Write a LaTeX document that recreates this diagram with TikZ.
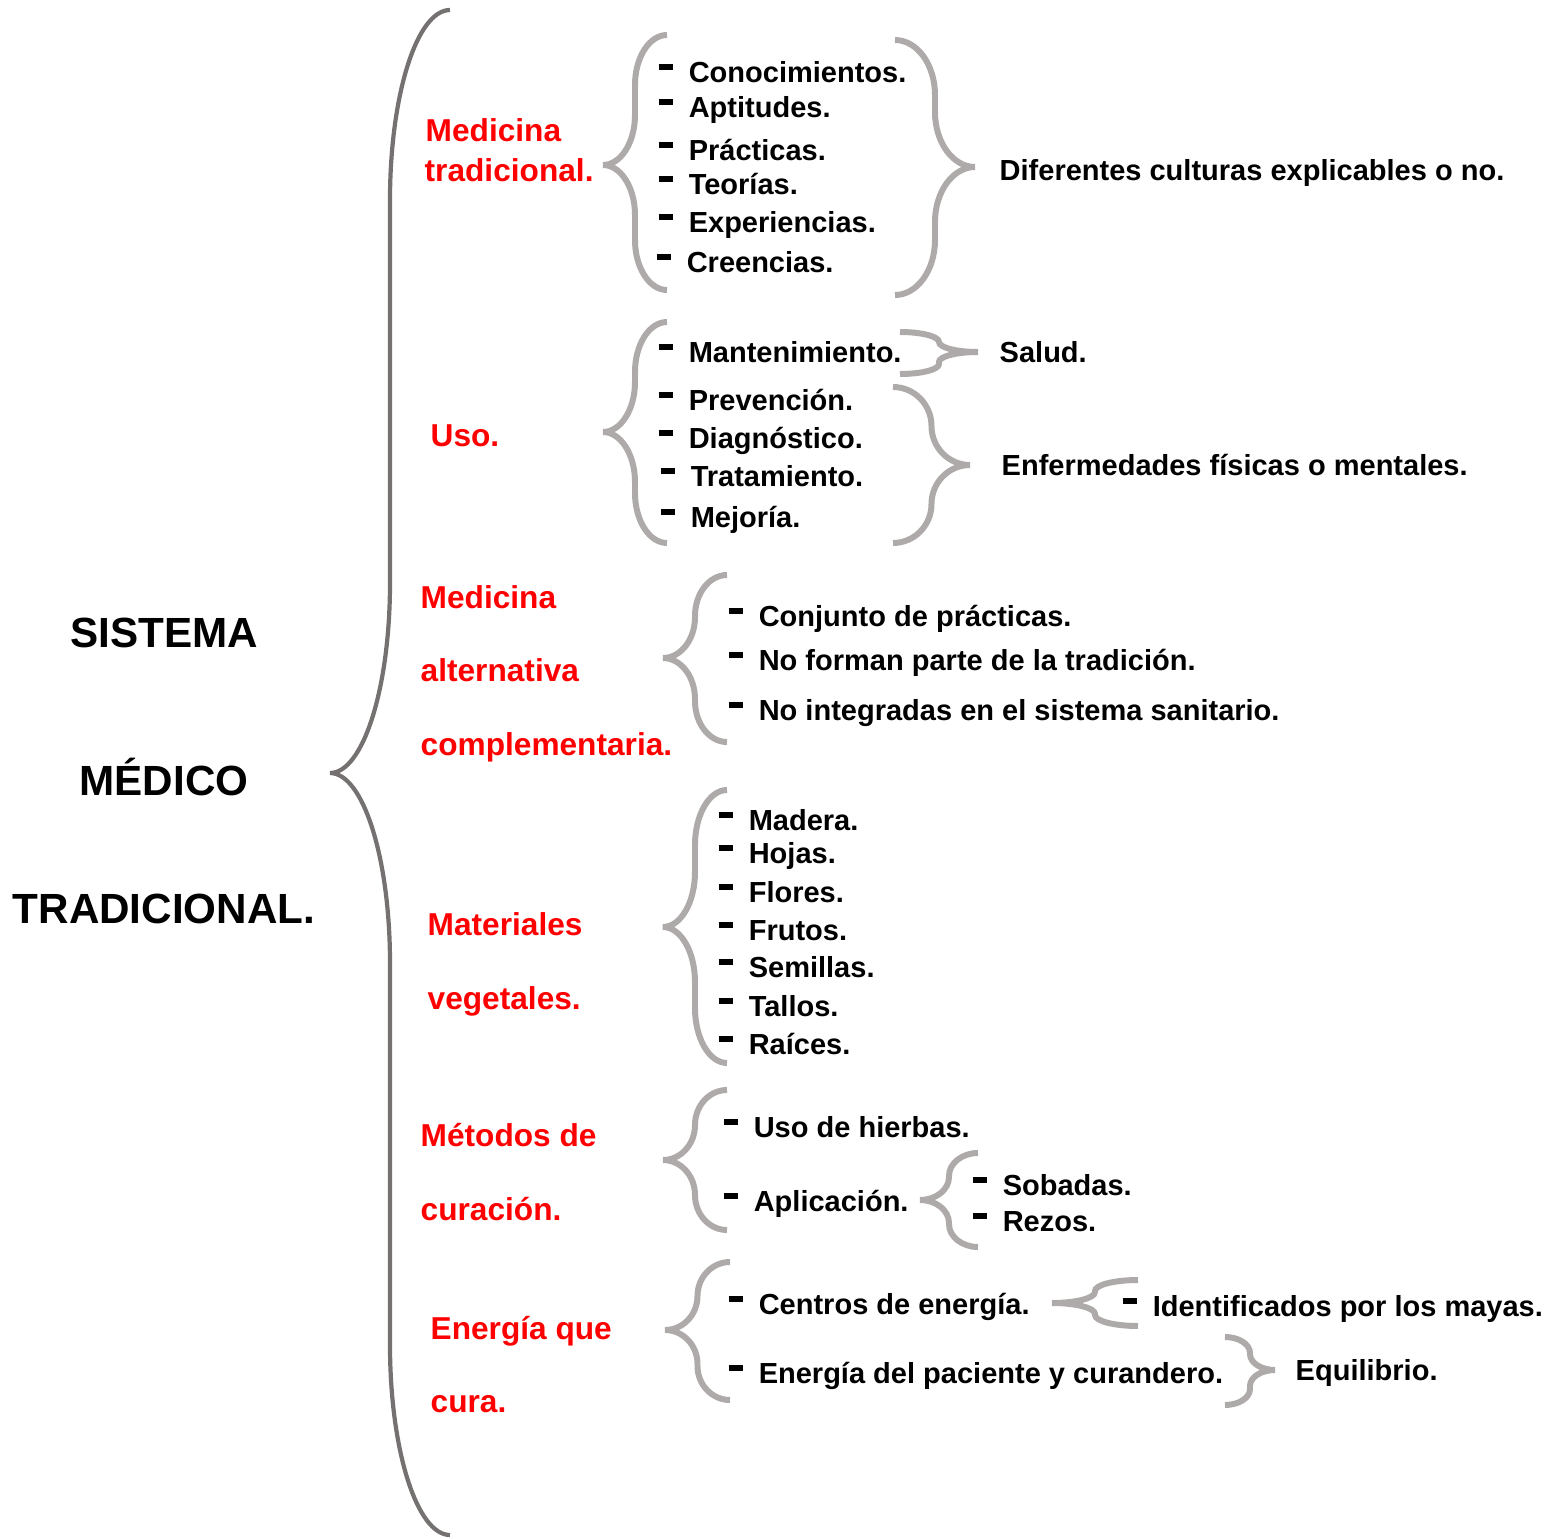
\documentclass[tikz,border=0pt]{standalone}
\usepackage{fontspec}
\setmainfont{Liberation Sans}
\usepackage{tikz}
\usetikzlibrary{positioning}
\usetikzlibrary{calc}
\definecolor{grisoscuro}{RGB}{118,113,113}
\definecolor{grisclaro}{RGB}{174,170,170}
\newcommand{\guion}{\rule[3.4pt]{4pt}{1.7pt}\hspace{4.55pt}}
% llave: punta x, extremo x, arriba y, punta y, abajo y, curva
\newcommand{\llave}[7][llavechica]{\draw[#1] (#3,#4) .. controls ({#3-0.552*(#3-#2)/2},#4) and ({(#2+#3)/2},{#4+0.448*#7}) .. ({(#2+#3)/2},{#4+#7}) -- ({(#2+#3)/2},{#5-#7}) .. controls ({(#2+#3)/2},{#5-0.448*#7}) and ({#2+0.552*(#3-#2)/2},#5) .. (#2,#5) .. controls ({#2+0.552*(#3-#2)/2},#5) and ({(#2+#3)/2},{#5+0.448*#7}) .. ({(#2+#3)/2},{#5+#7}) -- ({(#2+#3)/2},{#6-#7}) .. controls ({(#2+#3)/2},{#6-0.448*#7}) and ({#3-0.552*(#3-#2)/2},#6) .. (#3,#6);}

\begin{document}
\begin{tikzpicture}[x=0.01cm,y=-0.01cm,
	elem/.style={anchor=base west, inner sep=0pt, font=\fontsize{8.25pt}{10pt}\selectfont\bfseries},
	tema/.style={elem, text=red, font=\fontsize{9pt}{11pt}\selectfont\bfseries},
	titulo/.style={anchor=base, inner sep=0pt, font=\fontsize{12pt}{14pt}\selectfont\bfseries},
	llavechica/.style={grisclaro, line width=1.7pt},
	llavegrande/.style={grisoscuro, line width=1.2pt}]
	\useasboundingbox (0,0) rectangle (1550,1539);
	\node[titulo] at (164,647) (0sistema) {SISTEMA}; \node[titulo] at (164,795) (0medico) {MÉDICO}; \node[titulo] at (164,923) (0trad) {TRADICIONAL.};
	\llave[llavegrande]{330}{450}{10}{773}{1535}{190}
	% medicina tradicional
	\node[tema] at (425,141) (1med) {Medicina}; \node[tema] at (424,181) (1trad) {tradicional.};
	\llave{603}{667}{35}{165}{290}{50}
	\node[elem] at (658,82) (2conoc) {\guion Conocimientos.}; \node[elem] at (658,117) (2apt) {\guion Aptitudes.};
	\node[elem] at (658,160) (2pract) {\guion Prácticas.}; \node[elem] at (658,194) (2teor) {\guion Teorías.};
	\node[elem] at (658,232) (2exp) {\guion Experiencias.}; \node[elem] at (656,272) (2cree) {\guion Creencias.};
	\llave{975}{895}{40}{167}{295}{55}
	\node[elem] at (999,180) (3cult) {Diferentes culturas explicables o no.};
	% uso
	\node[tema] at (430,446) (1uso) {Uso.};
	\llave{603}{667}{322}{432}{543}{50}
	\node[elem] at (658,362) (2mant) {\guion Mantenimiento.}; \node[elem] at (658,410) (2prev) {\guion Prevención.};
	\node[elem] at (658,448) (2diag) {\guion Diagnóstico.}; \node[elem] at (660,486) (2trat) {\guion Tratamiento.};
	\node[elem] at (660,527) (2mej) {\guion Mejoría.};
	\llave{978}{900}{332}{352}{374}{10}
	\node[elem] at (999,362) (3salud) {Salud.};
	\llave{970}{893}{387}{465}{543}{39}
	\node[elem] at (1001,475) (3enf) {Enfermedades físicas o mentales.};
	% medicina alternativa
	\node[tema] at (420,608) (1alt) {Medicina}; \node[tema] at (420,681) (1alt2) {alternativa}; \node[tema] at (420,755) (1alt3) {complementaria.};
	\llave{663}{727}{575}{658}{742}{41}
	\node[elem] at (728,626) (2conj) {\guion Conjunto de prácticas.}; \node[elem] at (728,670) (2noform) {\guion No forman parte de la tradición.};
	\node[elem] at (728,720) (2noint) {\guion No integradas en el sistema sanitario.};
	% materiales vegetales
	\node[tema] at (427,935) (1mat) {Materiales}; \node[tema] at (427,1009) (1veg) {vegetales.};
	\llave{663}{727}{790}{927}{1063}{55}
	\node[elem] at (718,830) (2mad) {\guion Madera.}; \node[elem] at (718,863) (2hoj) {\guion Hojas.};
	\node[elem] at (718,902) (2flo) {\guion Flores.}; \node[elem] at (718,940) (2fru) {\guion Frutos.};
	\node[elem] at (718,977) (2sem) {\guion Semillas.}; \node[elem] at (718,1016) (2tal) {\guion Tallos.};
	\node[elem] at (718,1054) (2rai) {\guion Raíces.};
	% metodos de curacion
	\node[tema] at (420,1146) (1met) {Métodos de}; \node[tema] at (420,1220) (1cur) {curación.};
	\llave{663}{727}{1090}{1160}{1230}{35}
	\node[elem] at (723,1137) (2hier) {\guion Uso de hierbas.}; \node[elem] at (723,1211) (2apl) {\guion Aplicación.};
	\llave{920}{978}{1153}{1200}{1247}{23}
	\node[elem] at (972,1195) (3sob) {\guion Sobadas.}; \node[elem] at (972,1231) (3rez) {\guion Rezos.};
	% energia que cura
	\node[tema] at (430,1339) (1ene) {Energía que}; \node[tema] at (430,1412) (1cura) {cura.};
	\llave{665}{730}{1262}{1330}{1400}{34}
	\node[elem] at (728,1314) (2cent) {\guion Centros de energía.}; \node[elem] at (728,1383) (2pac) {\guion Energía del paciente y curandero.};
	\llave{1052}{1138}{1280}{1303}{1326}{11}
	\node[elem] at (1122,1316) (3may) {\guion Identificados por los mayas.};
	\llave{1275}{1225}{1337}{1370}{1405}{16}
	\node[elem] at (1295,1380) (3equi) {Equilibrio.};
\end{tikzpicture}
\end{document}
